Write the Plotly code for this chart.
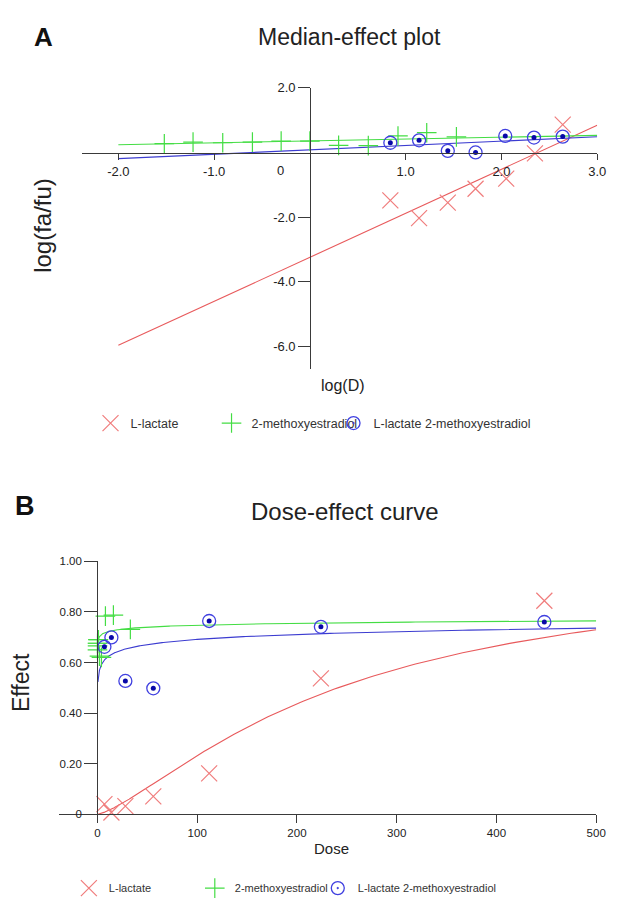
import numpy as np
import plotly.graph_objects as go

# ---------------- Panel A : median-effect plot (log(D) vs log(fa/fu)) ----------------
lact_logD = [0.84, 1.14, 1.44, 1.73, 2.05, 2.35, 2.64]
lact_logfafu = [-1.48, -2.03, -1.55, -1.12, -0.81, -0.03, 0.86]

me2_logD = [-1.52, -1.22, -0.91, -0.60, -0.30, 0.00, 0.30, 0.61, 0.92, 1.22, 1.53]
me2_logfafu = [0.27, 0.32, 0.30, 0.32, 0.35, 0.35, 0.22, 0.21, 0.51, 0.61, 0.48]

combo_logD = [0.84, 1.14, 1.44, 1.73, 2.04, 2.34, 2.64]
combo_logfafu = [0.30, 0.375, 0.05, 0.00, 0.51, 0.46, 0.49]

# ---------------- Panel B : dose-effect curve ----------------
lact_dose = [7, 14, 28, 56, 112, 224, 448]
lact_effect = [0.04, 0.007, 0.032, 0.071, 0.162, 0.537, 0.844]

me2_dose = [0.03, 0.06, 0.12, 0.25, 0.5, 1, 2, 4, 8, 16, 33]
me2_effect = [0.65, 0.676, 0.666, 0.676, 0.69, 0.69, 0.625, 0.62, 0.783, 0.787, 0.731]

combo_dose = [7, 14, 28, 56, 112, 224, 448]
combo_effect = [0.662, 0.699, 0.527, 0.498, 0.764, 0.741, 0.760]

# median-effect fit parameters (slope m, intercept b of log(fa/fu) = m*log(D) + b)
lact_m, lact_b = 1.36, -3.24
me2_m, me2_b = 0.058, 0.355
combo_m, combo_b = 0.135, 0.08

names = ["L-lactate", "2-methoxyestradiol", "L-lactate 2-methoxyestradiol"]

# tick labels
a_xticks = [-2, -1, 1, 2, 3]
a_xticktext = ["-2.0", "-1.0", "1.0", "2.0", "3.0"]
a_yticks = [2, -2, -4, -6]
a_yticktext = ["2.0", "-2.0", "-4.0", "-6.0"]
b_xticks = [0, 100, 200, 300, 400, 500]
b_xticktext = ["0", "100", "200", "300", "400", "500"]
b_yticks = [0, 0.2, 0.4, 0.6, 0.8, 1.0]
b_yticktext = ["0", "0.20", "0.40", "0.60", "0.80", "1.00"]

RED_M, RED_L = "#f07c7c", "#e85a5c"
GREEN_M, GREEN_L = "#44dd44", "#44dd44"
BLUE_RING, BLUE_DOT, BLUE_L = "#4040e0", "#0808a8", "#3c3cd0"
AX = "#3a3a3a"
FONT = "Liberation Sans, Arial, sans-serif"

W, H = 619, 903


def px_x(p):
    return p / W


def px_y(p):
    return 1 - p / H


fit_logD = np.array([-2.0, 3.0])
curve_dose = np.geomspace(0.5, 500, 400)


def median_effect(m, b, logd):
    return m * logd + b


def dose_effect(m, b, dose):
    return 1.0 / (1.0 + 10 ** (-(m * np.log10(dose) + b)))


fig = go.Figure()

params = [(lact_m, lact_b, RED_L), (me2_m, me2_b, GREEN_L), (combo_m, combo_b, BLUE_L)]
for m, b, c in params:
    fig.add_trace(go.Scatter(x=fit_logD, y=median_effect(m, b, fit_logD), mode="lines",
                             line=dict(color=c, width=1.1), showlegend=False,
                             xaxis="x", yaxis="y", hoverinfo="skip"))
    fig.add_trace(go.Scatter(x=curve_dose, y=dose_effect(m, b, curve_dose), mode="lines",
                             line=dict(color=c, width=1.1), showlegend=False,
                             xaxis="x2", yaxis="y2", hoverinfo="skip"))


def add_points(xa, ya, xs, ys, legends):
    fig.add_trace(go.Scatter(x=xs[0], y=ys[0], mode="markers", name=names[0],
                             marker=dict(symbol="x-thin-open", size=16, color=RED_M,
                                         line=dict(color=RED_M, width=1.2)),
                             xaxis=xa, yaxis=ya, legend=legends[0], cliponaxis=False))
    fig.add_trace(go.Scatter(x=xs[1], y=ys[1], mode="markers", name=names[1],
                             marker=dict(symbol="cross-thin-open", size=14, color=GREEN_M,
                                         line=dict(color=GREEN_M, width=1.2)),
                             xaxis=xa, yaxis=ya, legend=legends[1], cliponaxis=False))
    fig.add_trace(go.Scatter(x=xs[2], y=ys[2], mode="markers", name=names[2],
                             marker=dict(symbol="circle-open-dot", size=13, color=BLUE_RING,
                                         line=dict(color=BLUE_RING, width=1.3)),
                             xaxis=xa, yaxis=ya, legend=legends[2], cliponaxis=False))
    fig.add_trace(go.Scatter(x=xs[2], y=ys[2], mode="markers", showlegend=False,
                             marker=dict(symbol="circle", size=5, color=BLUE_DOT),
                             xaxis=xa, yaxis=ya, cliponaxis=False, hoverinfo="skip"))


add_points("x", "y", [lact_logD, me2_logD, combo_logD],
           [lact_logfafu, me2_logfafu, combo_logfafu], ["legend", "legend2", "legend3"])
add_points("x2", "y2", [lact_dose, me2_dose, combo_dose],
           [lact_effect, me2_effect, combo_effect], ["legend4", "legend5", "legend6"])

axis_common = dict(showline=True, linecolor=AX, linewidth=1.4, ticks="outside",
                   tickcolor=AX, tickwidth=1.2, showgrid=False, zeroline=False,
                   tickmode="array", fixedrange=True)


def legend_at(xpx, ypx, size):
    return dict(orientation="h", x=px_x(xpx), y=px_y(ypx), xanchor="left", yanchor="middle",
                font=dict(size=size, color="#333"), bgcolor="rgba(0,0,0,0)", itemwidth=30)


fig.update_layout(
    width=W, height=H, autosize=False,
    margin=dict(l=0, r=0, t=0, b=0),
    paper_bgcolor="white", plot_bgcolor="white",
    font=dict(family=FONT, color="#222"),
    xaxis=dict(**axis_common, domain=[px_x(83.3), px_x(607)], range=[-2.38, 3.0],
               anchor="free", position=px_y(148.3), tickvals=a_xticks, ticktext=a_xticktext,
               ticklen=6, tickfont=dict(size=13, color="#222")),
    yaxis=dict(**axis_common, domain=[px_y(368), px_y(82)], range=[-6.7, 2.0],
               anchor="free", position=px_x(315.5), tickvals=a_yticks, ticktext=a_yticktext,
               ticklen=12, tickfont=dict(size=13, color="#222")),
    xaxis2=dict(**axis_common, domain=[px_x(60), px_x(606)], range=[-38.5, 500],
                anchor="y2", tickvals=b_xticks, ticktext=b_xticktext,
                ticklen=8, tickfont=dict(size=11.5, color="#222")),
    yaxis2=dict(**axis_common, domain=[px_y(820), px_y(563)], range=[0, 1.0],
                anchor="free", position=px_x(99), tickvals=b_yticks, ticktext=b_yticktext,
                ticklen=13, tickfont=dict(size=11.5, color="#222")),
    legend=legend_at(92, 423, 12.5),
    legend2=legend_at(215, 423, 12.5),
    legend3=legend_at(339, 423, 12.5),
    legend4=legend_at(70, 895, 11),
    legend5=legend_at(198, 895, 11),
    legend6=legend_at(323, 895, 11),
)

annotations = [
    dict(text="<b>A</b>", x=px_x(44), y=px_y(30), font=dict(size=26, color="#111")),
    dict(text="<b>B</b>", x=px_x(25), y=px_y(507), font=dict(size=27, color="#111")),
    dict(text="Median-effect plot", x=px_x(355), y=px_y(30), font=dict(size=23, color="#222")),
    dict(text="Dose-effect curve", x=px_x(351), y=px_y(512), font=dict(size=24, color="#222")),
    dict(text="log(fa/fu)", x=px_x(43), y=px_y(222), textangle=-90, font=dict(size=24, color="#222")),
    dict(text="log(D)", x=px_x(349), y=px_y(384), font=dict(size=16, color="#222")),
    dict(text="Effect", x=px_x(22), y=px_y(686), textangle=-90, font=dict(size=23, color="#222")),
    dict(text="Dose", x=px_x(337), y=px_y(855), font=dict(size=15, color="#222")),
]
for a in annotations:
    a.update(xref="paper", yref="paper", showarrow=False, xanchor="center", yanchor="middle")
# origin label "0" on the A x-axis, set just left of the vertical axis
annotations.append(dict(text="0", x=-0.31, y=-0.57, xref="x", yref="y", showarrow=False,
                        xanchor="center", yanchor="middle", font=dict(size=13, color="#222")))
fig.update_layout(annotations=annotations)

fig.write_html("out.html", config={"displayModeBar": False},
               post_script="document.body.style.margin='0';document.body.style.overflow='hidden';")
